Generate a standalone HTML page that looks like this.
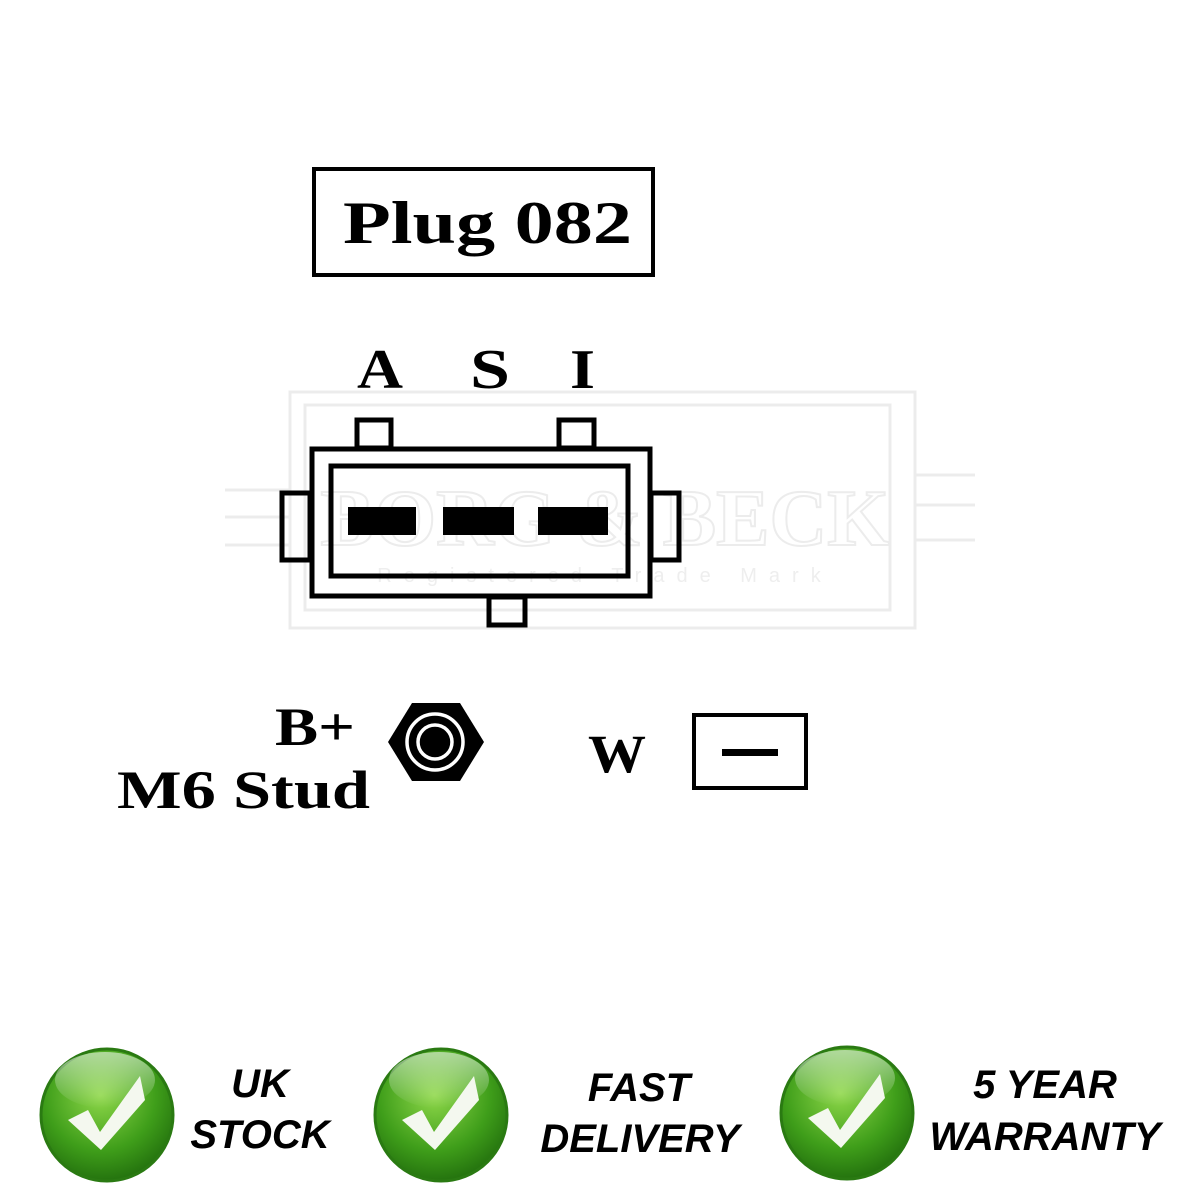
<!DOCTYPE html>
<html><head><meta charset="utf-8"><style>
html,body{margin:0;padding:0;background:#fff;width:1200px;height:1200px;overflow:hidden}
svg{display:block}
</style></head><body>
<svg width="1200" height="1200" viewBox="0 0 1200 1200" xmlns="http://www.w3.org/2000/svg">
<defs>
<radialGradient id="g" cx="0.45" cy="0.35" r="0.7">
<stop offset="0" stop-color="#8fd84a"/><stop offset="0.6" stop-color="#3f9e1a"/><stop offset="1" stop-color="#1f6a0c"/>
</radialGradient>
<linearGradient id="hl" x1="0" y1="0" x2="0" y2="1">
<stop offset="0" stop-color="#fff" stop-opacity="0.55"/><stop offset="1" stop-color="#fff" stop-opacity="0"/>
</linearGradient>
</defs>
<!-- faint watermark -->
<g fill="none" stroke="#ececec" stroke-width="3">
<rect x="290" y="392" width="625" height="236"/>
<rect x="305" y="405" width="585" height="205"/>
<line x1="225" y1="490" x2="290" y2="490"/><line x1="225" y1="517" x2="290" y2="517"/><line x1="225" y1="545" x2="290" y2="545"/>
<line x1="915" y1="475" x2="975" y2="475"/><line x1="915" y1="505" x2="975" y2="505"/><line x1="915" y1="540" x2="975" y2="540"/>
</g>

<!-- Plug box -->
<rect x="314" y="169" width="339" height="106" fill="none" stroke="#000" stroke-width="4"/>
<text x="343" y="243" font-family="Liberation Serif,serif" font-weight="bold" font-size="60" textLength="289" lengthAdjust="spacingAndGlyphs">Plug 082</text>

<g font-family="Liberation Serif,serif" font-weight="bold" font-size="56">
<text x="357" y="388" textLength="46" lengthAdjust="spacingAndGlyphs">A</text>
<text x="470" y="388" textLength="40" lengthAdjust="spacingAndGlyphs">S</text>
<text x="570" y="388" textLength="25" lengthAdjust="spacingAndGlyphs">I</text>
</g>

<text x="605" y="545" font-family="Liberation Serif,serif" font-weight="bold" font-size="80" fill="none" stroke="#ececec" stroke-width="2" text-anchor="middle">BORG &amp; BECK</text>
<text x="605" y="582" font-family="Liberation Sans,sans-serif" font-size="20" fill="#eeeeee" text-anchor="middle" letter-spacing="12">Registered Trade Mark</text>

<g fill="none" stroke="#000" stroke-width="5">
<rect x="357" y="420" width="34" height="28"/>
<rect x="559" y="420" width="35" height="28"/>
<rect x="282" y="493" width="28" height="67"/>
<rect x="651" y="493" width="28" height="67"/>
<rect x="489" y="597" width="36" height="28"/>
<rect x="312" y="449" width="338" height="147"/>
<rect x="331" y="466" width="297" height="110"/>
</g>
<rect x="348" y="507" width="68" height="28"/>
<rect x="443" y="507" width="71" height="28"/>
<rect x="538" y="507" width="70" height="28"/>

<g font-family="Liberation Serif,serif" font-weight="bold" font-size="54">
<text x="275" y="745" textLength="80" lengthAdjust="spacingAndGlyphs">B+</text>
<text x="117" y="808" textLength="253" lengthAdjust="spacingAndGlyphs">M6 Stud</text>
<text x="588" y="772" textLength="58" lengthAdjust="spacingAndGlyphs">W</text>
</g>
<polygon points="412,703 460,703 484,742 460,781 412,781 388,742" fill="#000"/>
<circle cx="435" cy="742" r="28" fill="none" stroke="#fff" stroke-width="3.5"/>
<circle cx="435" cy="742" r="17" fill="none" stroke="#fff" stroke-width="3.5"/>
<rect x="694" y="715" width="112" height="73" fill="none" stroke="#000" stroke-width="4"/>
<rect x="722" y="749" width="56" height="7"/>

<!-- badges -->
<g>
<circle cx="107" cy="1115" r="66" fill="url(#g)" stroke="#2a7a12" stroke-width="3"/>
<ellipse cx="105" cy="1080" rx="50" ry="28" fill="url(#hl)"/>
<path d="M68,1120 L88,1110 L100,1132 L140,1076 L145,1100 L101,1150 Z" fill="#f4f8ef"/>
<circle cx="441" cy="1115" r="66" fill="url(#g)" stroke="#2a7a12" stroke-width="3"/>
<ellipse cx="439" cy="1080" rx="50" ry="28" fill="url(#hl)"/>
<path d="M402,1120 L422,1110 L434,1132 L474,1076 L479,1100 L435,1150 Z" fill="#f4f8ef"/>
<circle cx="847" cy="1113" r="66" fill="url(#g)" stroke="#2a7a12" stroke-width="3"/>
<ellipse cx="845" cy="1078" rx="50" ry="28" fill="url(#hl)"/>
<path d="M808,1118 L828,1108 L840,1130 L880,1074 L885,1098 L841,1148 Z" fill="#f4f8ef"/>
</g>
<g font-family="Liberation Sans,sans-serif" font-weight="bold" font-style="italic" font-size="40" text-anchor="middle">
<text x="260" y="1097">UK</text><text x="260" y="1148">STOCK</text>
<text x="639" y="1101">FAST</text><text x="640" y="1152">DELIVERY</text>
<text x="1045" y="1098">5 YEAR</text><text x="1045" y="1150">WARRANTY</text>
</g>
</svg>
</body></html>
